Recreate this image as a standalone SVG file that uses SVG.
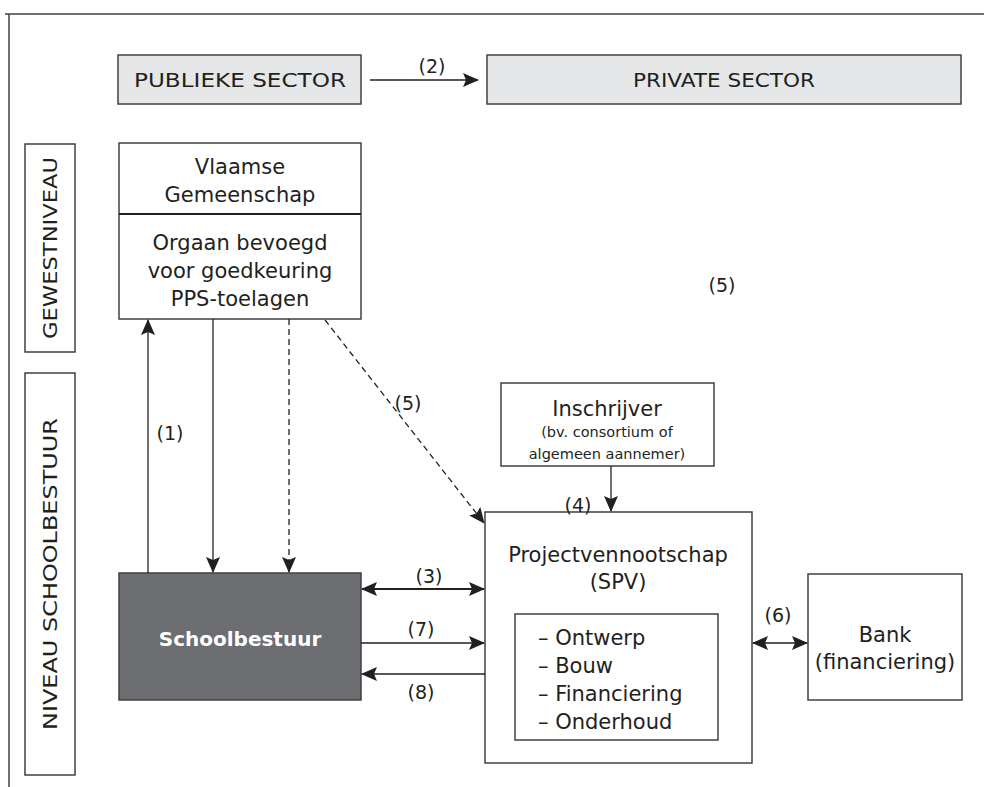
<svg xmlns="http://www.w3.org/2000/svg" width="984" height="787" viewBox="0 0 984 787">
<defs>
<marker id="ahb" markerWidth="16" markerHeight="14" refX="15" refY="7" orient="auto-start-reverse" markerUnits="userSpaceOnUse" viewBox="0 0 16 14">
<path d="M0,0 L16,7 L0,14 L3,7 Z" fill="#231f20"/>
</marker>
</defs>
<style>
text{font-family:"DejaVu Sans","Liberation Sans",sans-serif;fill:#231f20;text-anchor:middle}
text.l{text-anchor:start}
.box{fill:#fff;stroke:#414042;stroke-width:1.5}
.gray{fill:#e6e7e8;stroke:#414042;stroke-width:1.5}
.ln{stroke:#231f20;stroke-width:1.3;fill:none}
.dash{stroke:#231f20;stroke-width:1.3;fill:none;stroke-dasharray:6,4}
.t{font-size:21px}
.s{font-size:14.5px}
.lab{font-size:19px}
.cap{font-size:19px}
</style>
<rect width="984" height="787" fill="#fff"/>
<path d="M5,14 H984 M9,14 V787" stroke="#414042" stroke-width="1.5" fill="none"/>

<g id="publieke"><rect class="gray" x="118" y="55" width="243" height="49"/><text class="cap" x="240" y="87" textLength="212" lengthAdjust="spacingAndGlyphs">PUBLIEKE SECTOR</text></g>
<g id="private"><rect class="gray" x="487" y="55" width="474" height="49"/><text class="cap" x="724" y="87" textLength="182" lengthAdjust="spacingAndGlyphs">PRIVATE SECTOR</text></g>

<g id="gewest"><rect class="box" x="25" y="144" width="50" height="208"/><text class="cap" transform="translate(57,248) rotate(-90)" textLength="182" lengthAdjust="spacingAndGlyphs">GEWESTNIVEAU</text></g>
<g id="niveau"><rect class="box" x="25" y="373" width="50" height="402"/><text class="cap" transform="translate(57,574) rotate(-90)" textLength="312" lengthAdjust="spacingAndGlyphs">NIVEAU SCHOOLBESTUUR</text></g>

<g id="vlaamse"><rect class="box" x="119" y="143" width="242" height="176"/><line x1="119" y1="214" x2="361" y2="214" stroke="#231f20" stroke-width="1.8"/>
<text class="t" x="240" y="174">Vlaamse</text><text class="t" x="240" y="202">Gemeenschap</text>
<text class="t" x="240" y="250">Orgaan bevoegd</text><text class="t" x="240" y="278">voor goedkeuring</text><text class="t" x="240" y="306">PPS-toelagen</text></g>

<g id="inschrijver"><rect class="box" x="501" y="383" width="213" height="83"/><text class="t" x="607" y="416">Inschrijver</text><text class="s" x="607" y="437">(bv. consortium of</text><text class="s" x="607" y="459">algemeen aannemer)</text></g>

<g id="spv"><rect class="box" x="485" y="512" width="267" height="251"/><text class="t" x="618" y="562">Projectvennootschap</text><text class="t" x="618" y="589">(SPV)</text>
<rect class="box" x="515" y="614" width="203" height="126"/>
<text class="t l" x="538" y="645">– Ontwerp</text><text class="t l" x="538" y="673">– Bouw</text><text class="t l" x="538" y="701">– Financiering</text><text class="t l" x="538" y="729">– Onderhoud</text></g>

<g id="schoolbestuur"><rect x="119" y="573" width="242" height="127" fill="#6d6e71" stroke="#414042" stroke-width="1.5"/><text x="240" y="646" style="font-size:20px;font-weight:bold;fill:#fff">Schoolbestuur</text></g>

<g id="bank"><rect class="box" x="808" y="574" width="154" height="126"/><text class="t" x="885" y="642">Bank</text><text class="t" x="885" y="669">(financiering)</text></g>

<g id="connectors">
<line class="ln" x1="370" y1="80" x2="478" y2="80" marker-end="url(#ahb)"/>
<line class="ln" x1="148" y1="573" x2="148" y2="320" marker-end="url(#ahb)"/>
<line class="ln" x1="213" y1="319" x2="213" y2="572" marker-end="url(#ahb)"/>
<line class="dash" x1="289" y1="319" x2="289" y2="572" marker-end="url(#ahb)"/>
<line class="dash" x1="325" y1="320" x2="484" y2="523" marker-end="url(#ahb)"/>
<line class="ln" x1="611" y1="466" x2="611" y2="511" marker-end="url(#ahb)"/>
<line x1="362" y1="589" x2="484" y2="589" stroke="#231f20" stroke-width="2.2" marker-start="url(#ahb)" marker-end="url(#ahb)"/>
<line class="ln" x1="361" y1="643" x2="484" y2="643" marker-end="url(#ahb)"/>
<line class="ln" x1="485" y1="674" x2="362" y2="674" marker-end="url(#ahb)"/>
<line class="ln" x1="753" y1="643" x2="807" y2="643" marker-start="url(#ahb)" marker-end="url(#ahb)"/>
</g>
<g id="labels">
<text class="lab" x="432" y="73">(2)</text>
<text class="lab" x="170" y="440">(1)</text>
<text class="lab" x="408" y="410">(5)</text>
<text class="lab" x="722" y="292">(5)</text>
<text class="lab" x="578" y="512">(4)</text>
<text class="lab" x="429" y="583">(3)</text>
<text class="lab" x="421" y="636">(7)</text>
<text class="lab" x="421" y="699">(8)</text>
<text class="lab" x="778" y="622">(6)</text>
</g>
</svg>
